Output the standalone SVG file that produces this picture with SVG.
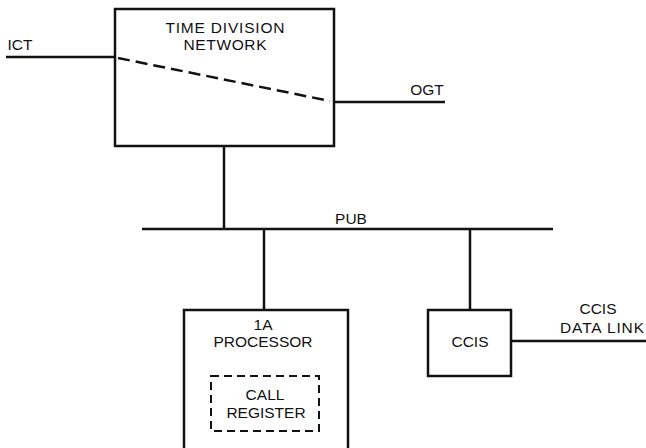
<svg xmlns="http://www.w3.org/2000/svg" width="646" height="448" viewBox="0 0 646 448">
<style>
.ln{stroke:#111;stroke-width:2.5;fill:none}
.box{stroke:#111;stroke-width:2.5;fill:#fff}
.dash{stroke:#111;stroke-width:2.5;fill:none;stroke-dasharray:12 6}
.dbox{stroke:#111;stroke-width:2;fill:none;stroke-dasharray:8 5}
text{font-family:"Liberation Sans",Arial,sans-serif;font-size:15.5px;fill:#111;text-anchor:middle}
</style>
<rect width="646" height="448" fill="#fff"/>
<g id="connectors">
<line class="ln" x1="6" y1="57" x2="115" y2="57"/>
<line class="ln" x1="334" y1="102" x2="445" y2="102"/>
<line class="ln" x1="224" y1="146" x2="224" y2="229"/>
<line class="ln" x1="142" y1="229" x2="553" y2="229"/>
<line class="ln" x1="264" y1="229" x2="264" y2="310"/>
<line class="ln" x1="470" y1="229" x2="470" y2="310"/>
<line class="ln" x1="511" y1="341" x2="646" y2="341"/>
</g>
<g id="labels">
<text x="20" y="50">ICT</text>
<text x="427" y="95">OGT</text>
<text x="351" y="224">PUB</text>
<text x="598" y="314">CCIS</text>
<text x="602" y="333" textLength="84" lengthAdjust="spacing">DATA LINK</text>
</g>
<g id="tdn">
<rect class="box" x="115" y="9" width="219" height="137"/>
<text x="225" y="33" textLength="119" lengthAdjust="spacing">TIME DIVISION</text>
<text x="225" y="50" textLength="83" lengthAdjust="spacing">NETWORK</text>
<line class="dash" x1="118" y1="58" x2="330" y2="101"/>
</g>
<g id="processor">
<rect class="box" x="184" y="310" width="164" height="150"/>
<text x="263" y="330">1A</text>
<text x="263" y="347">PROCESSOR</text>
</g>
<g id="call-register">
<rect class="dbox" x="211" y="376" width="108" height="55"/>
<text x="265" y="400">CALL</text>
<text x="266" y="418">REGISTER</text>
</g>
<g id="ccis">
<rect class="box" x="428" y="310" width="83" height="66"/>
<text x="470" y="347">CCIS</text>
</g>
</svg>
